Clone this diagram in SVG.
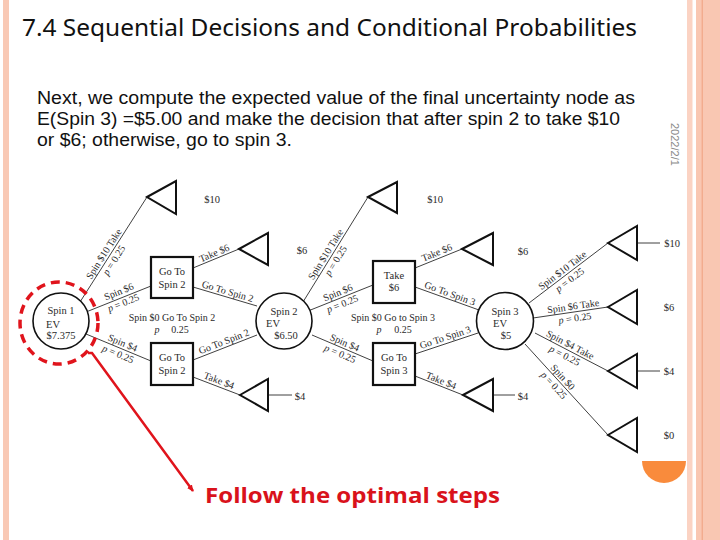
<svg xmlns="http://www.w3.org/2000/svg" width="720" height="540" viewBox="0 0 720 540">
<style>
.ln{stroke:#2a2a2a;stroke-width:0.9;fill:none}
.tri{fill:#fff;stroke:#111;stroke-width:2;stroke-linejoin:miter}
.sq{fill:#fff;stroke:#111;stroke-width:2.2}
.ch{fill:#fff;stroke:#111;stroke-width:1.6}
.t{font-family:"Liberation Serif","Times New Roman",serif;font-size:10.5px;fill:#2a2a2a}
.lb{font-family:"Liberation Serif","Times New Roman",serif;font-size:10px;fill:#2a2a2a;text-anchor:middle}
.c{text-anchor:middle}
.pay{font-family:"Liberation Serif","Times New Roman",serif;font-size:10.5px;fill:#2a2a2a;text-anchor:middle}
</style>
<defs>
<marker id="ah" markerWidth="8" markerHeight="8" refX="6" refY="4" orient="auto" markerUnits="userSpaceOnUse">
<path d="M0,1 L7,4 L0,7 Z" fill="#E0141C"/>
</marker>
</defs>
<rect width="720" height="540" fill="#fff"/>
<!-- borders -->
<rect x="3" y="0" width="6" height="540" fill="#F9C9B5"/>
<rect x="687" y="0" width="5.5" height="540" fill="#FBD3C3"/>
<rect x="696" y="0" width="24" height="540" fill="#F9C7B2"/>
<line x1="702.2" y1="0" x2="702.2" y2="540" stroke="#F0A07E" stroke-width="1"/>
<path d="M642,461 L686,461 A22,22 0 0 1 642,461 Z" fill="#F98B3C"/>

<!-- header text -->
<text x="22" y="36" font-family="'Noto Sans','Open Sans',sans-serif" font-size="23" fill="#111" textLength="615" lengthAdjust="spacingAndGlyphs">7.4 Sequential Decisions and Conditional Probabilities</text>
<g font-family="'Liberation Sans',Arial,sans-serif" font-size="17.5" fill="#111">
<text x="37" y="104" textLength="598" lengthAdjust="spacingAndGlyphs">Next, we compute the expected value of the final uncertainty node as</text>
<text x="37" y="125" textLength="583" lengthAdjust="spacingAndGlyphs">E(Spin 3) =$5.00 and make the decision that after spin 2 to take $10</text>
<text x="37" y="146" textLength="255" lengthAdjust="spacingAndGlyphs">or $6; otherwise, go to spin 3.</text>
</g>
<text transform="translate(671,123) rotate(90)" font-family="'Liberation Sans',sans-serif" font-size="11" fill="#8a8a8a">2022/2/1</text>

<!-- connectors -->
<g id="connectors">
<line class="ln" x1="80" y1="302" x2="147" y2="197"/>
<line class="ln" x1="86" y1="312" x2="151" y2="286"/>
<line class="ln" x1="86" y1="334" x2="151" y2="361"/>
<line class="ln" x1="193" y1="268" x2="239" y2="249"/>
<line class="ln" x1="193" y1="287" x2="257" y2="306"/>
<line class="ln" x1="193" y1="360" x2="257" y2="335"/>
<line class="ln" x1="193" y1="377" x2="240" y2="395"/>
<line class="ln" x1="268" y1="395" x2="292" y2="395"/>
<line class="ln" x1="303" y1="302" x2="368" y2="197"/>
<line class="ln" x1="308" y1="311" x2="373" y2="285"/>
<line class="ln" x1="312" y1="335" x2="373" y2="361"/>
<line class="ln" x1="415" y1="268" x2="462" y2="249"/>
<line class="ln" x1="415" y1="287" x2="479" y2="310"/>
<line class="ln" x1="415" y1="354" x2="478" y2="333"/>
<line class="ln" x1="415" y1="376" x2="463" y2="395"/>
<line class="ln" x1="493" y1="395" x2="515" y2="395"/>
<line class="ln" x1="529" y1="303" x2="608" y2="243"/>
<line class="ln" x1="533" y1="318" x2="608" y2="307"/>
<line class="ln" x1="535" y1="333" x2="608" y2="371"/>
<line class="ln" x1="525" y1="344" x2="608" y2="435"/>
<line class="ln" x1="637" y1="243" x2="660" y2="243"/>
<line class="ln" x1="637" y1="371" x2="660" y2="371"/>
</g>

<!-- edge labels -->
<g id="edge-labels">
<g transform="translate(108.7,257) rotate(-57.5)"><text class="lb" y="-2.5">Spin $10 Take</text><text class="lb" y="9.5"><tspan font-style="italic">p</tspan> = 0.25</text></g>
<g transform="translate(121,297) rotate(-21.8)"><text class="lb" y="-2.5">Spin $6</text><text class="lb" y="9.5"><tspan font-style="italic">p</tspan> = 0.25</text></g>
<g transform="translate(120.5,348.3) rotate(22.6)"><text class="lb" y="-2.5">Spin $4</text><text class="lb" y="9.5"><tspan font-style="italic">p</tspan> = 0.25</text></g>
<text class="lb" x="172" y="320.5">Spin $0 Go To Spin 2</text>
<text class="lb" x="157" y="332.5" font-style="italic">p</text>
<text class="lb" x="180" y="332.5">0.25</text>
<g transform="translate(226,297) rotate(16.5)"><text class="lb" y="-2.5">Go To Spin 2</text></g>
<g transform="translate(216.5,258.5) rotate(-22.9)"><text class="lb" y="-2.5">Take $6</text></g>
<g transform="translate(226,347) rotate(-21.3)"><text class="lb" y="-2.5">Go To Spin 2</text></g>
<g transform="translate(217,386) rotate(20.9)"><text class="lb" y="-2.5">Take $4</text></g>
<g transform="translate(330.5,257.5) rotate(-58.2)"><text class="lb" y="-2.5">Spin $10 Take</text><text class="lb" y="9.5"><tspan font-style="italic">p</tspan> = 0.25</text></g>
<g transform="translate(340,298) rotate(-21.8)"><text class="lb" y="-2.5">Spin $6</text><text class="lb" y="9.5"><tspan font-style="italic">p</tspan> = 0.25</text></g>
<g transform="translate(342.5,348) rotate(23.1)"><text class="lb" y="-2.5">Spin $4</text><text class="lb" y="9.5"><tspan font-style="italic">p</tspan> = 0.25</text></g>
<text class="lb" x="393" y="320.5">Spin $0 Go to Spin 3</text>
<text class="lb" x="379" y="332.5" font-style="italic">p</text>
<text class="lb" x="403" y="332.5">0.25</text>
<g transform="translate(439,258) rotate(-22)"><text class="lb" y="-2.5">Take $6</text></g>
<g transform="translate(448,299) rotate(19.8)"><text class="lb" y="-2.5">Go To Spin 3</text></g>
<g transform="translate(447,343) rotate(-18.4)"><text class="lb" y="-2.5">Go To Spin 3</text></g>
<g transform="translate(439,386) rotate(21.6)"><text class="lb" y="-2.5">Take $4</text></g>
<g transform="translate(566,275) rotate(-37.2)"><text class="lb" y="-2.5">Spin $10 Take</text><text class="lb" y="9.5"><tspan font-style="italic">p</tspan> = 0.25</text></g>
<g transform="translate(574,312) rotate(-8.3)"><text class="lb" y="-2.5">Spin $6 Take</text><text class="lb" y="9.5"><tspan font-style="italic">p</tspan> = 0.25</text></g>
<g transform="translate(567.5,350) rotate(27.5)"><text class="lb" y="-2.5">Spin $4 Take</text><text class="lb" y="9.5"><tspan font-style="italic">p</tspan> = 0.25</text></g>
<g transform="translate(558.5,381) rotate(47.6)"><text class="lb" y="-2.5">Spin $0</text><text class="lb" y="9.5"><tspan font-style="italic">p</tspan> = 0.25</text></g>
</g>

<!-- nodes -->
<g id="spin1"><circle class="ch" cx="61" cy="321" r="28"/>
<text class="t c" x="61" y="314">Spin 1</text><text class="t" x="46" y="328">EV</text><text class="t c" x="61" y="339">$7.375</text></g>
<g id="spin1-highlight"><ellipse cx="59" cy="323" rx="39" ry="41" fill="none" stroke="#E0141C" stroke-width="3.5" stroke-dasharray="9 6"/></g>
<g id="dec-a"><rect class="sq" x="151" y="257" width="42" height="41"/><text class="t c" x="172" y="275">Go To</text><text class="t c" x="172" y="288">Spin 2</text></g>
<g id="dec-b"><rect class="sq" x="151" y="343" width="42" height="42"/><text class="t c" x="172" y="361">Go To</text><text class="t c" x="172" y="374">Spin 2</text></g>
<g id="spin2"><circle class="ch" cx="284" cy="321" r="28"/>
<text class="t c" x="284" y="315">Spin 2</text><text class="t" x="266" y="327">EV</text><text class="t c" x="286" y="339">$6.50</text></g>
<g id="dec-c"><rect class="sq" x="373" y="261" width="42" height="42"/><text class="t c" x="394" y="279">Take</text><text class="t c" x="394" y="291">$6</text></g>
<g id="dec-d"><rect class="sq" x="373" y="343" width="42" height="42"/><text class="t c" x="394" y="361">Go To</text><text class="t c" x="394" y="374">Spin 3</text></g>
<g id="spin3"><circle class="ch" cx="505" cy="321" r="28.5"/>
<text class="t c" x="505" y="315">Spin 3</text><text class="t" x="493" y="327">EV</text><text class="t c" x="506" y="339">$5</text></g>

<g id="end-a"><path class="tri" d="M147,197 L176,181 L176,214 Z"/><text class="pay" x="212" y="202.5">$10</text></g>
<g id="end-b"><path class="tri" d="M239,249 L268,233 L268,265 Z"/><text class="pay" x="302" y="253.5">$6</text></g>
<g id="end-c"><path class="tri" d="M240,395 L268,379 L268,411 Z"/><text class="pay" x="300" y="399.5">$4</text></g>
<g id="end-d"><path class="tri" d="M368,197 L397,182 L397,213 Z"/><text class="pay" x="435" y="202.5">$10</text></g>
<g id="end-e"><path class="tri" d="M462,249 L493,233 L493,265 Z"/><text class="pay" x="523" y="254.5">$6</text></g>
<g id="end-f"><path class="tri" d="M463,395 L493,379 L493,411 Z"/><text class="pay" x="523" y="399.5">$4</text></g>
<g id="end-g"><path class="tri" d="M608,243 L637,226 L637,260 Z"/><text class="pay" x="672" y="246.5">$10</text></g>
<g id="end-h"><path class="tri" d="M608,307 L637,290 L637,324 Z"/><text class="pay" x="669" y="310.5">$6</text></g>
<g id="end-i"><path class="tri" d="M608,371 L637,354 L637,388 Z"/><text class="pay" x="669" y="374.5">$4</text></g>
<g id="end-j"><path class="tri" d="M608,435 L637,418 L637,452 Z"/><text class="pay" x="669" y="438.5">$0</text></g>

<!-- annotation -->
<g id="annotation">
<polyline points="88,353 92,353 193,491" fill="none" stroke="#E0141C" stroke-width="2.5" marker-end="url(#ah)"/>
<text x="205" y="503" font-family="'Open Sans','Noto Sans',sans-serif" font-weight="bold" font-size="22" fill="#D9121B" textLength="295" lengthAdjust="spacingAndGlyphs">Follow the optimal steps</text>
</g>
</svg>
